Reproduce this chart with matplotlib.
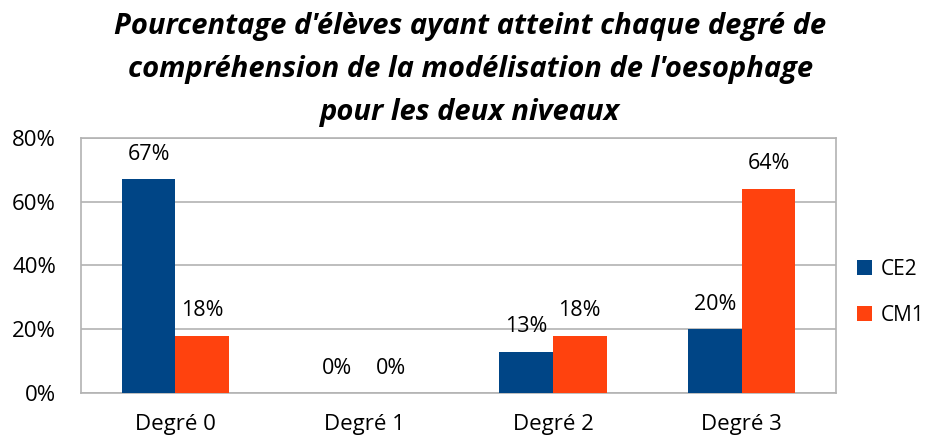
import matplotlib.pyplot as plt
import numpy as np

plt.rcParams['font.family'] = ['Open Sans', 'DejaVu Sans']

# Data
categories = ['Degré 0', 'Degré 1', 'Degré 2', 'Degré 3']
ce2 = [67, 0, 13, 20]
cm1 = [18, 0, 18, 64]
series_names = ['CE2', 'CM1']
colors = ['#004586', '#FF420E']

fig = plt.figure(figsize=(9.29, 4.38), dpi=100)
ax = fig.add_axes([0.0872, 0.1027, 0.8128, 0.5823])

x = np.arange(len(categories))
w = 0.284
bars1 = ax.bar(x - w / 2, ce2, w, color=colors[0], label=series_names[0], zorder=3)
bars2 = ax.bar(x + w / 2, cm1, w, color=colors[1], label=series_names[1], zorder=3)

for bars in (bars1, bars2):
    for b in bars:
        h = b.get_height()
        ax.annotate(f'{h:.0f}%', (b.get_x() + b.get_width() / 2, h),
                    xytext=(0, 18), textcoords='offset points',
                    ha='center', va='center', fontsize=15.5)

ax.set_xlim(-0.5, 3.5)
ax.set_ylim(0, 80)
ax.set_yticks([0, 20, 40, 60, 80])
ax.set_yticklabels(['0%', '20%', '40%', '60%', '80%'], fontsize=16)
ax.set_xticks(x)
ax.set_xticklabels(categories, fontsize=16)
ax.tick_params(length=0)
ax.tick_params(axis='x', pad=15)
ax.tick_params(axis='y', pad=18)
ax.yaxis.grid(True, color='#b3b3b3', linewidth=1.2, zorder=0)
for s in ax.spines.values():
    s.set_color('#b3b3b3')
    s.set_linewidth(1.2)

fig.text(0.506, 0.972,
         "Pourcentage d'élèves ayant atteint chaque degré de\n"
         "compréhension de la modélisation de l'oesophage\n"
         "pour les deux niveaux",
         ha='center', va='top', fontsize=21, fontweight='bold', fontstyle='italic',
         linespacing=1.64)

fig.legend(loc='center left', bbox_to_anchor=(0.914, 0.333), frameon=False,
           fontsize=15, handlelength=0.7, handleheight=0.7, handletextpad=0.4,
           labelspacing=1.2, borderaxespad=0.0)

fig.savefig('out.png', dpi=100)
